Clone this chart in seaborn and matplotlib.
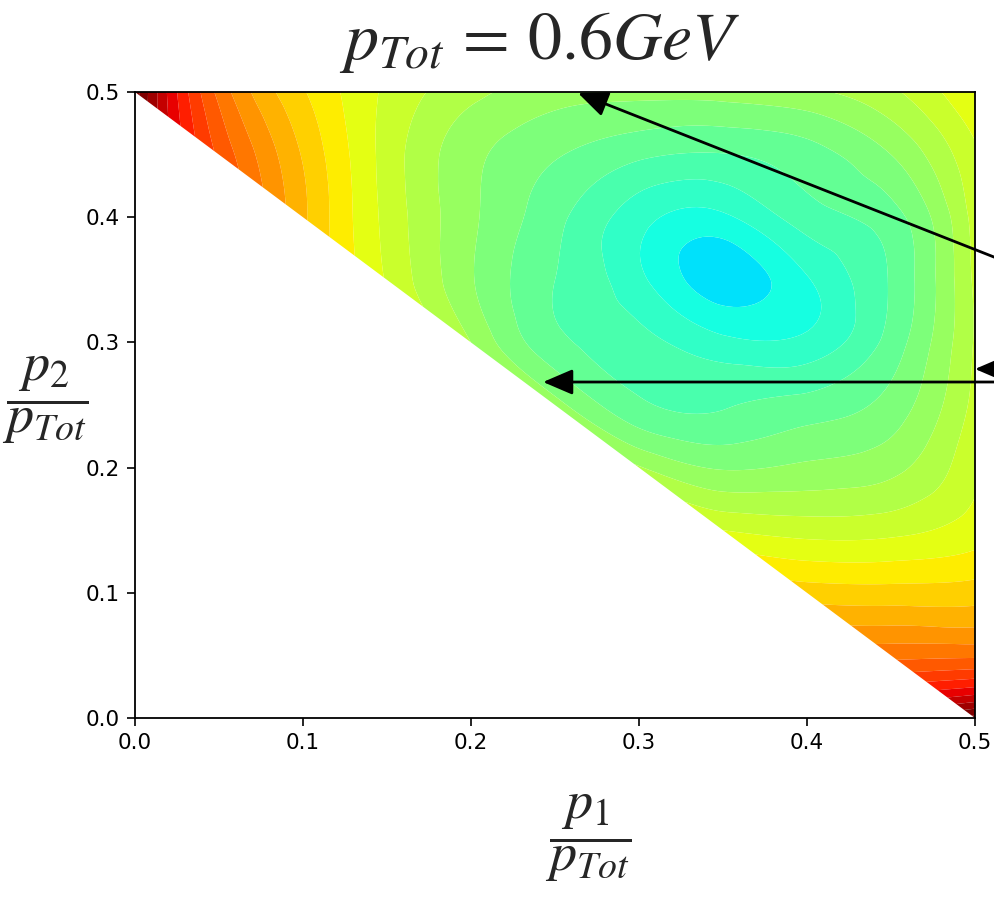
import numpy as np
import matplotlib
matplotlib.use("Agg")
import matplotlib.pyplot as plt
import matplotlib.tri as mtri
from matplotlib.colors import Normalize
import seaborn as sns

# Momentum fractions p1/pTot (columns) and p2/pTot (rows) of the sampling grid
p_steps = [0.0, 0.05, 0.10, 0.15, 0.20, 0.25, 0.30, 0.35, 0.40, 0.45, 0.50]

# Rate (arb. units) on the allowed triangle p1 + p2 >= 0.5, p1, p2 <= 0.5.
# Each row lists the values for the allowed p1 columns, ending at p1 = 0.5.
rate_p2_050 = [33.0, 25.2, 21.6, 19.3, 17.8, 16.9, 16.8, 16.9, 17.3, 18.3, 20.5]
rate_p2_045 = [26.3, 22.4, 19.1, 16.8, 15.6, 14.7, 14.45, 15.1, 16.5, 19.3]
rate_p2_040 = [22.7, 19.2, 16.7, 14.8, 12.9, 12.3, 14.0, 15.1, 18.9]
rate_p2_035 = [19.4, 16.6, 14.5, 12.75, 11.0, 12.4, 14.6, 18.7]
rate_p2_030 = [17.5, 14.8, 13.8, 12.8, 12.8, 14.9, 18.6]
rate_p2_025 = [16.9, 14.7, 14.4, 14.9, 15.9, 18.8]
rate_p2_020 = [17.6, 16.4, 16.7, 17.2, 19.3]
rate_p2_015 = [19.5, 19.1, 19.2, 20.0]
rate_p2_010 = [22.0, 21.9, 22.0]
rate_p2_005 = [25.2, 25.3]
rate_p2_000 = [33.0]

rows = [
    (0.50, rate_p2_050), (0.45, rate_p2_045), (0.40, rate_p2_040),
    (0.35, rate_p2_035), (0.30, rate_p2_030), (0.25, rate_p2_025),
    (0.20, rate_p2_020), (0.15, rate_p2_015), (0.10, rate_p2_010),
    (0.05, rate_p2_005), (0.00, rate_p2_000),
]

p1_pts, p2_pts, rate_pts = [], [], []
for p2, vals in rows:
    cols = p_steps[len(p_steps) - len(vals):]
    p1_pts.extend(cols)
    p2_pts.extend([p2] * len(vals))
    rate_pts.extend(vals)

p1_pts = np.array(p1_pts)
p2_pts = np.array(p2_pts)
rate_pts = np.array(rate_pts)

sns.set_style("ticks")
plt.rcParams["font.family"] = ["DejaVu Sans"]
plt.rcParams["mathtext.fontset"] = "stix"

fig = plt.figure(figsize=(9.94, 8.98), dpi=100)
ax = fig.add_axes([0.1358, 0.2004, 0.8451, 0.6971])

tri = mtri.Triangulation(p1_pts, p2_pts)
interp = mtri.CubicTriInterpolator(tri, rate_pts, kind="min_E")
refiner = mtri.UniformTriRefiner(tri)
tri_fine, rate_fine = refiner.refine_field(rate_pts, triinterpolator=interp, subdiv=4)

levels = np.arange(9.5, 36.0, 1.0)
cmap = matplotlib.colormaps["jet"]
ax.tricontourf(tri_fine, rate_fine, levels=levels, cmap=cmap,
               norm=Normalize(vmin=0.0, vmax=32.0), antialiased=True)

ax.set_xlim(0, 0.5)
ax.set_ylim(0, 0.5)
ax.set_xticks([0.0, 0.1, 0.2, 0.3, 0.4, 0.5])
ax.set_yticks([0.0, 0.1, 0.2, 0.3, 0.4, 0.5])
ax.tick_params(labelsize=15.5, length=5.8, width=1.2, pad=5.0,
               color="black", labelcolor="black")
for s in ax.spines.values():
    s.set_color("black")
    s.set_linewidth(1.3)

# annotation arrows coming in from the right
arrow_kw = dict(arrowstyle="-|>,head_length=0.7,head_width=0.3", color="black",
                lw=2.0, mutation_scale=26, shrinkA=0, shrinkB=0)
ax.annotate("", xy=(0.2637, 0.4992), xytext=(0.5446, 0.3506),
            arrowprops=arrow_kw, annotation_clip=False)
ax.annotate("", xy=(0.2429, 0.2684), xytext=(0.5446, 0.2684),
            arrowprops=arrow_kw, annotation_clip=False)
ax.annotate("", xy=(0.5000, 0.2788), xytext=(0.5446, 0.2788),
            arrowprops=arrow_kw, annotation_clip=False)

fig.text(540 / 994, 1 - 42 / 898, r"$p_{Tot}\, = \,0.6GeV$", ha="center", va="center",
         fontsize=49)
fig.text(45 / 994, 1 - 400 / 898, r"$\dfrac{p_2}{p_{Tot}}$", ha="center", va="center",
         fontsize=39)
fig.text(588 / 994, 1 - 838 / 898, r"$\dfrac{p_1}{p_{Tot}}$", ha="center", va="center",
         fontsize=39)

fig.savefig("out.png", dpi=100, facecolor="white")
